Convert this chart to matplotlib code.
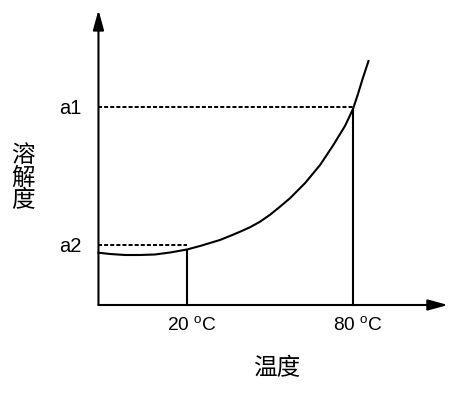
import matplotlib
matplotlib.use('Agg')
import matplotlib.pyplot as plt

# 溶解度曲线（示意图）
temp = [-12, -7.8, -2.4, 3.0, 8.4, 13.9, 20, 24.7, 31.9, 35.5, 39.2, 42.8,
        46.4, 50.0, 53.6, 57.2, 62.7, 68.1, 72.9, 77.1, 80, 81.8, 83.4, 85.6]
solub = [52.3, 51, 50, 50, 50.5, 52.5, 55.5, 59, 65, 69, 73.3, 77.8,
         83.3, 90.2, 98.3, 106.7, 122, 140, 160, 179, 196, 211, 225.5, 244]

t_marks = [20, 80]
t_labels = [r'20 $^{\mathrm{o}}$C', r'80 $^{\mathrm{o}}$C']
s_marks = [55.5, 196]        # 竖线顶端高度
a_vals = [60, 198]
a_labels = ['a2', 'a1']

t0, t_end = -12, 114.3
s_top = 295

plt.rcParams['lines.scale_dashes'] = False
plt.rcParams['mathtext.fontset'] = 'custom'
plt.rcParams['mathtext.rm'] = 'Liberation Sans'
fig = plt.figure(figsize=[4.64, 3.99], dpi=100)
ax = fig.add_axes([0, 0, 1, 1])
ax.set_xlim(-47.59, 120.12)
ax.set_ylim(-94, 305)
ax.axis('off')

# 坐标轴（带箭头）
arrow = dict(arrowstyle='-|>,head_length=1.2,head_width=0.33', mutation_scale=10,
             lw=1.5, color='black', shrinkA=0, shrinkB=0)
ax.annotate('', xy=(t_end, 0), xytext=(t0, 0), arrowprops=arrow)
ax.annotate('', xy=(t0, s_top), xytext=(t0, 0), arrowprops=arrow)

# 曲线
ax.plot(temp, solub, color='black', lw=1.5, solid_joinstyle='round')

# 竖线与虚线
for t, s, a in zip(t_marks, s_marks, a_vals):
    ax.plot([t, t], [0, s], color='black', lw=1.5)
    ax.plot([t0, t], [a, a], color='black', lw=1.4, dashes=(2.9, 1.5))

lat = ['Liberation Sans', 'DejaVu Sans']
for t, lab in zip(t_marks, t_labels):
    ax.annotate(lab, xy=(t, 0), xytext=(-14.5, -8), textcoords='offset points',
                ha='left', va='top', fontsize=13.8, family=lat)
for a, lab in zip(a_vals, a_labels):
    ax.annotate(lab, xy=(t0, a), xytext=(-12.5, -1), textcoords='offset points',
                ha='right', va='center', fontsize=14.5, family=lat)

cjk = ['Noto Sans CJK SC', 'DejaVu Sans']
fig.text(277 / 464, 1 - 369 / 399, '温度', ha='center', va='center',
         fontsize=17, family=cjk)
fig.text(23 / 464, 1 - 178 / 399, '溶\n解\n度', ha='center', va='center',
         fontsize=17, family=cjk, linespacing=0.98)

plt.savefig('out.png', dpi=100)
